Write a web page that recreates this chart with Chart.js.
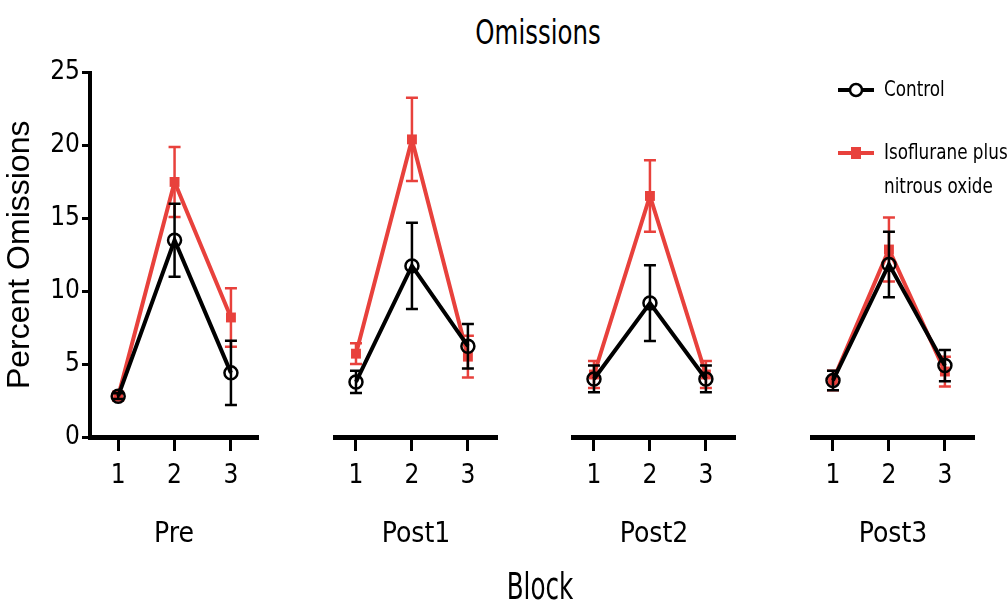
<!DOCTYPE html>
<html>
<head>
    <title>Omissions</title>
    <script src="https://cdn.jsdelivr.net/npm/chart.js"></script>
    <style>
        body { margin: 0; background: #fff; width: 1007px; height: 606px; overflow: hidden; position: relative; }
        .panel { position: absolute; top: 55px; height: 510px; }
        .txt { position: absolute; font-family: 'Liberation Sans Narrow', 'DejaVu Sans Condensed', sans-serif; color: #000; white-space: nowrap; }
        #title { left: 538px; top: 12px; font-size: 34px; transform: translateX(-50%) scaleX(0.8); }
        #xtitle { left: 540px; top: 564px; font-size: 38px; transform: translateX(-50%) scaleX(0.72); }
        #legend { left: 836px; top: 72px; font-size: 22px; line-height: 34px; }
        #legend .row { display: flex; align-items: flex-start; margin-bottom: 29px; }
        #legend .lbl { transform: scaleX(0.85); transform-origin: left top; }
        #legend svg { margin-right: 8px; }
    </style>
</head>
<body>
    <div class="txt" id="title">Omissions</div>
    <div class="panel" id="p0" style="left:0;width:268px"><canvas id="c0"></canvas></div>
    <div class="panel" id="p1" style="left:325px;width:182px"><canvas id="c1"></canvas></div>
    <div class="panel" id="p2" style="left:563px;width:182px"><canvas id="c2"></canvas></div>
    <div class="panel" id="p3" style="left:802px;width:182px"><canvas id="c3"></canvas></div>
    <div class="txt" id="xtitle">Block</div>
    <div class="txt" id="legend"></div>
    <script>
        // data
        const sessions = ["Pre", "Post1", "Post2", "Post3"];
        const blocks = [1, 2, 3];
        const blockLabels = ["1", "2", "3"];
        const seriesNames = ["Control", "Isoflurane plus\nnitrous oxide"];
        const controlMean = [[2.8, 13.5, 4.4], [3.7, 11.5, 6.1], [3.9, 9.0, 3.9], [3.8, 11.6, 4.8]];
        const controlErr = [[0.2, 2.5, 2.2], [0.75, 2.9, 1.5], [0.9, 2.55, 0.9], [0.65, 2.2, 1.05]];
        const isoMean = [[2.8, 17.5, 8.2], [5.6, 20.0, 5.4], [4.2, 16.2, 4.2], [3.8, 12.6, 4.4]];
        const isoErr = [[0.3, 2.4, 2.0], [0.7, 2.8, 1.4], [0.9, 2.4, 0.9], [0.65, 2.15, 1.0]];
        const yTicks = [0, 5, 10, 15, 20, 25];

        const BLACK = "#000000";
        const RED = "#e8413c";
        const narrow = "'Liberation Sans Narrow', 'DejaVu Sans Condensed', sans-serif";

        // draws each dataset's error bars just before the dataset itself
        const errorBars = {
            id: "errorBars",
            beforeDatasetDraw(chart, args) {
                const ds = chart.data.datasets[args.index];
                const xs = chart.scales.x, ys = chart.scales.y;
                const ctx = chart.ctx;
                ctx.save();
                ctx.strokeStyle = ds.borderColor;
                ctx.lineWidth = 2.5;
                ds.data.forEach((p, i) => {
                    const e = ds.errors[i];
                    const x = xs.getPixelForValue(p.x);
                    const yHi = ys.getPixelForValue(p.y + e);
                    const yLo = ys.getPixelForValue(p.y - e);
                    ctx.beginPath();
                    ctx.moveTo(x, yHi); ctx.lineTo(x, yLo);
                    ctx.moveTo(x - 6, yHi); ctx.lineTo(x + 6, yHi);
                    ctx.moveTo(x - 6, yLo); ctx.lineTo(x + 6, yLo);
                    ctx.stroke();
                });
                ctx.restore();
            }
        };

        function makeChart(k) {
            const first = k === 0;
            const toPoints = arr => blocks.map((b, i) => ({ x: b, y: arr[i] }));
            new Chart(document.getElementById("c" + k), {
                type: "line",
                data: {
                    datasets: [
                        {
                            label: seriesNames[0],
                            data: toPoints(controlMean[k]),
                            errors: controlErr[k],
                            borderColor: BLACK,
                            borderWidth: 4,
                            pointStyle: "circle",
                            pointRadius: 6.5,
                            pointBorderWidth: 2.5,
                            pointBackgroundColor: "rgba(0,0,0,0)",
                            pointBorderColor: BLACK
                        },
                        {
                            label: seriesNames[1],
                            data: toPoints(isoMean[k]),
                            errors: isoErr[k],
                            borderColor: RED,
                            borderWidth: 4,
                            pointStyle: "rect",
                            pointRadius: 7,
                            pointBorderWidth: 0,
                            pointBackgroundColor: RED,
                            pointBorderColor: RED
                        }
                    ]
                },
                options: {
                    responsive: true,
                    maintainAspectRatio: false,
                    animation: false,
                    clip: false,
                    layout: { padding: { top: 10, bottom: 0, left: first ? 0 : 10, right: 10 } },
                    plugins: { legend: { display: false }, tooltip: { enabled: false } },
                    scales: {
                        x: {
                            type: "linear",
                            min: first ? 0.5 : 0.625,
                            max: first ? 3.48 : 3.52,
                            afterBuildTicks: s => { s.ticks = blocks.map(v => ({ value: v })); },
                            afterFit: s => { s.height = 128; },
                            border: { display: true, color: BLACK, width: 5 },
                            grid: { drawOnChartArea: false, tickLength: 14, tickWidth: 3, tickColor: BLACK },
                            ticks: {
                                color: BLACK, padding: 10, maxRotation: 0,
                                font: { family: narrow, size: 26 },
                                callback: (v) => blockLabels[blocks.indexOf(v)]
                            },
                            title: {
                                display: true, text: sessions[k], color: BLACK,
                                font: { family: narrow, size: 28 },
                                padding: { top: 0, bottom: 13 }
                            }
                        },
                        y: {
                            display: first,
                            min: 0, max: 25,
                            afterBuildTicks: s => { s.ticks = yTicks.map(v => ({ value: v })); },
                            afterFit: s => { if (first) s.width = 90; },
                            border: { display: true, color: BLACK, width: 4 },
                            grid: { drawOnChartArea: false, tickLength: 8, tickWidth: 3, tickColor: BLACK },
                            ticks: { color: BLACK, padding: 2, font: { family: narrow, size: 26 } },
                            title: {
                                display: true, text: "Percent Omissions", color: BLACK,
                                font: { family: "'Liberation Sans', Arial, sans-serif", size: 32 },
                                padding: { top: 1, bottom: 0 }
                            }
                        }
                    }
                },
                plugins: [errorBars]
            });
        }

        sessions.forEach((s, k) => makeChart(k));

        // legend built from the series names
        const legend = document.getElementById("legend");
        const marks = [
            '<svg width="40" height="34"><line x1="2" y1="18" x2="38" y2="18" stroke="' + BLACK + '" stroke-width="4"/><circle cx="20" cy="18" r="6" fill="#fff" stroke="' + BLACK + '" stroke-width="2.5"/></svg>',
            '<svg width="40" height="34"><line x1="2" y1="18" x2="38" y2="18" stroke="' + RED + '" stroke-width="4"/><rect x="15" y="12" width="10" height="12" fill="' + RED + '"/></svg>'
        ];
        seriesNames.forEach((name, i) => {
            const row = document.createElement("div");
            row.className = "row";
            row.innerHTML = marks[i] + '<div class="lbl">' + name.split("\n").join("<br>") + "</div>";
            legend.appendChild(row);
        });
    </script>
</body>
</html>
